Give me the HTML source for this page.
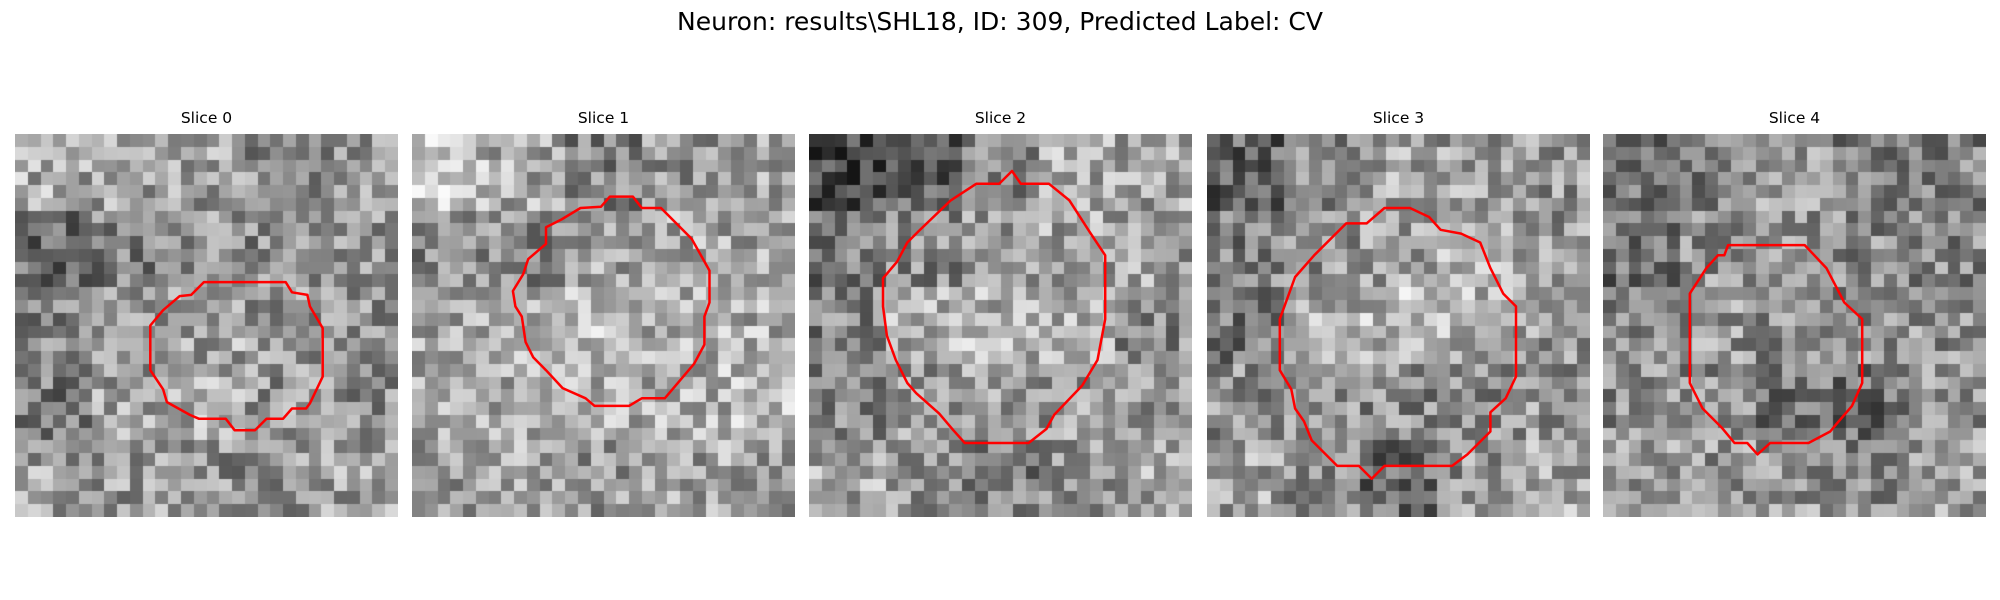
<!DOCTYPE html>
<html><head><meta charset="utf-8"><style>
html,body{margin:0;padding:0;background:#fff;width:2000px;height:600px;overflow:hidden;font-family:"DejaVu Sans","Liberation Sans",sans-serif;}
#title{position:absolute;left:0;width:2000px;top:7px;text-align:center;font-size:25px;color:#000;}
.st{position:absolute;width:383px;text-align:center;font-size:15.5px;top:109px;color:#000;}
canvas{position:absolute;top:134px;}
svg{position:absolute;left:0;top:0;}
</style></head><body>
<div id="title">Neuron: results\SHL18, ID: 309, Predicted Label: CV</div>
<div id="root"></div>
<svg id="ov" width="2000" height="600"></svg>
<script>
const panelTitles=["Slice 0","Slice 1","Slice 2","Slice 3","Slice 4"];
const panelLefts=[15,412,809,1207,1603];
const coarse0=[[170,165,160,140,150],[110,130,150,140,150],[130,150,165,150,150],[125,160,170,150,145],[160,155,145,150,160]];
const coarse1=[[190,170,130,150,160],[140,140,165,170,165],[170,180,185,170,175],[165,175,175,175,180],[160,165,155,160,165]];
const coarse2=[[80,100,140,170,165],[120,140,150,165,160],[130,175,180,175,140],[135,150,160,155,150],[165,150,130,150,165]];
const coarse3=[[100,140,165,160,150],[130,150,160,170,150],[120,170,185,175,155],[145,150,140,145,150],[165,140,110,150,165]];
const coarse4=[[110,130,155,130,130],[110,145,150,140,135],[135,150,145,140,145],[140,140,120,110,145],[150,150,150,135,155]];
const contour0=[[14.8,11.6],[21.2,11.6],[21.7,12.4],[22.9,12.6],[23.1,13.5],[24.1,15.2],[24.1,19],[23.1,21.1],[22.8,21.5],[21.7,21.5],[21,22.3],[19.7,22.3],[18.8,23.2],[17.2,23.2],[16.5,22.3],[14.4,22.3],[13.7,22],[11.9,21],[11.6,20],[10.6,18.5],[10.6,15],[11.6,13.8],[12.9,12.7],[13.8,12.6]];
const contour1=[[15.5,4.9],[17.3,4.9],[18,5.8],[19.5,5.8],[21.9,8.2],[23.3,10.7],[23.3,13.2],[22.9,14.3],[22.9,16.5],[22.1,18],[19.8,20.7],[18,20.7],[17,21.3],[14.3,21.3],[13.6,20.7],[11.8,19.9],[10.5,18.5],[9.5,17.5],[8.9,16.3],[8.6,14.3],[8.1,13.5],[7.9,12.3],[8.7,11],[9.1,9.8],[10.5,8.6],[10.5,7.3],[11.7,6.7],[13.2,5.8],[14.8,5.7]];
const contour2=[[15.9,2.9],[16.6,3.9],[18.8,3.9],[20.4,5.2],[22,7.7],[23.2,9.5],[23.2,14.5],[22.6,17.7],[21.4,19.7],[19.2,22],[18.6,23.1],[17.2,24.2],[12.2,24.2],[11.3,23.2],[10.2,21.9],[8.4,20.3],[7.7,19.5],[6.8,17.7],[6.1,15.8],[5.8,13.5],[5.8,11.3],[6.9,10],[7.7,8.5],[8.6,7.6],[11.1,5.2],[13.1,3.9],[14.9,3.9]];
const contour3=[[13.9,5.8],[15.9,5.8],[17.4,6.5],[18.3,7.5],[19.9,7.8],[21.4,8.5],[22.2,10.5],[23.2,12.5],[24.2,13.5],[24.2,19],[23.4,20.7],[22.2,21.8],[22.2,23.3],[20.4,25.1],[19.2,26],[13.9,26],[12.9,27],[11.9,26],[10.2,26],[8.2,24],[7.6,22.5],[6.9,21.5],[6.6,20],[5.7,18.5],[5.7,14.5],[6.9,11.2],[8.4,9.5],[10.9,7],[12.5,7]];
const contour4=[[9.8,8.7],[15.8,8.7],[17.5,10.5],[18.9,13.2],[20.3,14.5],[20.3,19.5],[19.5,21.3],[18.3,22.7],[17.8,23.3],[16.1,24.2],[13.1,24.2],[12.1,25.1],[11.3,24.2],[10.3,24.2],[9.3,23],[7.8,21.5],[6.8,19.5],[6.8,12.5],[8.1,10.5],[9,9.5],[9.5,9.5]];
const coarseMaps=[coarse0,coarse1,coarse2,coarse3,coarse4];
const contours=[contour0,contour1,contour2,contour3,contour4];
const N=30, SIZE=383, TOP=134, cell=SIZE/N;
function h(a,b,c){let x=(a*374761393+b*668265263+c*2147483647)|0;x=(x^(x>>>13))*1274126177|0;x=x^(x>>>16);return ((x>>>0)%1000)/1000;}
function sx(p,c){return panelLefts[p]+c*cell;}
function sy(r){return TOP+r*cell;}
const root=document.getElementById('root');
const ov=document.getElementById('ov');
panelTitles.forEach((t,p)=>{
  const d=document.createElement('div');d.className='st';d.style.left=panelLefts[p]+'px';d.textContent=t;
  
  
  root.appendChild(d);
  const cv=document.createElement('canvas');cv.width=SIZE;cv.height=SIZE;cv.style.left=panelLefts[p]+'px';
  
  
  const ctx=cv.getContext('2d');
  const m=coarseMaps[p];
  for(let r=0;r<N;r++)for(let c=0;c<N;c++){
    let base=m[Math.min(4,Math.floor(r/6))][Math.min(4,Math.floor(c/6))];
    let v=Math.round(base+(h(r,c,p+1)-0.5)*120);
    v=Math.max(5,Math.min(250,v));
    ctx.fillStyle='rgb('+v+','+v+','+v+')';
    const x0=Math.round(c*cell),y0=Math.round(r*cell);
    ctx.fillRect(x0,y0,Math.round((c+1)*cell)-x0,Math.round((r+1)*cell)-y0);
  }
  root.appendChild(cv);
  const poly=document.createElementNS('http://www.w3.org/2000/svg','polygon');
  poly.setAttribute('points',contours[p].map(q=>sx(p,q[0]).toFixed(1)+','+sy(q[1]).toFixed(1)).join(' '));
  poly.setAttribute('fill','none');poly.setAttribute('stroke','#ff0000');poly.setAttribute('stroke-width','2.5');
  poly.setAttribute('stroke-linejoin','round');
  
  
  ov.appendChild(poly);
});
</script>
</body></html>
